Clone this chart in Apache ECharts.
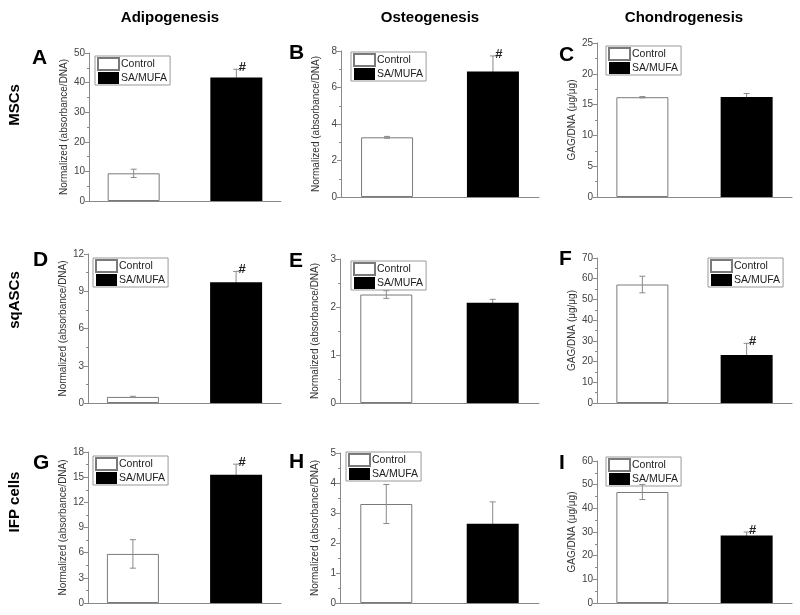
<!DOCTYPE html>
<html>
<head>
<meta charset="utf-8">
<script src="https://cdn.jsdelivr.net/npm/echarts@6/dist/echarts.min.js"></script>
<style>html,body{margin:0;padding:0;background:#fff;}#c{width:800px;height:615px;}</style>
</head>
<body>
<div id="c"></div>
<script>
// ---- data ----
const seriesNames = ['Control', 'SA/MUFA'];
const columnTitles = ['Adipogenesis', 'Osteogenesis', 'Chondrogenesis'];
const rowTitles = ['MSCs', 'sqASCs', 'IFP cells'];
const panelLetters = ['A', 'B', 'C', 'D', 'E', 'F', 'G', 'H', 'I'];
const yAxisNames = ['Normalized (absorbance/DNA)', 'Normalized (absorbance/DNA)', 'GAG/DNA (\u03bcg/\u03bcg)'];
const yMax = [50, 8, 25, 12, 3, 70, 18, 5, 60];
const yInterval = [10, 2, 5, 3, 1, 10, 3, 1, 10];
const controlMean = [9.35, 3.27, 16.2, 0.49, 2.26, 57.2, 5.85, 3.3, 46.9];
const controlErr = [1.4, 0.05, 0.1, 0.05, 0.08, 4.0, 1.7, 0.65, 3.2];
const treatMean = [41.7, 6.88, 16.25, 9.72, 2.09, 23.2, 15.3, 2.64, 28.5];
const treatErr = [2.8, 0.85, 0.55, 0.88, 0.07, 5.6, 1.25, 0.73, 1.5];
const significance = ['#', '#', '', '#', '', '#', '#', '', '#'];

// ---- layout ----
const gridBoxes = [
  {left: 89, top: 53, width: 192, height: 148},
  {left: 341, top: 51, width: 198, height: 146},
  {left: 597, top: 43, width: 195, height: 154},
  {left: 88, top: 254, width: 193, height: 149},
  {left: 340, top: 259, width: 199, height: 144},
  {left: 597, top: 258, width: 195, height: 145},
  {left: 88, top: 452, width: 193, height: 151},
  {left: 340, top: 453, width: 199, height: 150},
  {left: 597, top: 461, width: 195, height: 142}
];
const legendPos = [
  {left: 95, top: 56}, {left: 351, top: 52}, {left: 606, top: 46},
  {left: 93, top: 258}, {left: 351, top: 261}, {left: 708, top: 258},
  {left: 93, top: 456}, {left: 346, top: 452}, {left: 606, top: 457}
];
const letterPos = [[40, 59], [297, 54], [567, 56], [41, 261], [297, 262], [567, 260], [41, 464], [297, 463], [567, 464]];
const colTitleX = [170, 430, 684];
const rowTitleY = [105, 300, 502];

const FONT = '"Liberation Sans", Arial, sans-serif';
const AXIS = '#8a8a8a';

const grids = [], xAxes = [], yAxes = [], series = [], legends = [], graphics = [];

function errRender(params, api) {
  const x = api.value(0), lo = api.value(1), hi = api.value(2);
  const pHi = api.coord([x, hi]);
  const pLo = api.coord([x, lo]);
  const cw = 3;
  const style = {stroke: '#8a8a8a', lineWidth: 1};
  return {type: 'group', children: [
    {type: 'line', shape: {x1: pHi[0], y1: pHi[1], x2: pLo[0], y2: pLo[1]}, style: style},
    {type: 'line', shape: {x1: pHi[0] - cw, y1: pHi[1], x2: pHi[0] + cw, y2: pHi[1]}, style: style},
    {type: 'line', shape: {x1: pLo[0] - cw, y1: pLo[1], x2: pLo[0] + cw, y2: pLo[1]}, style: style}
  ]};
}

for (let i = 0; i < 9; i++) {
  const col = i % 3;
  grids.push(Object.assign({containLabel: false}, gridBoxes[i]));
  xAxes.push({
    gridIndex: i, type: 'value', min: 0.565, max: 2.435,
    axisLine: {show: true, onZero: false, lineStyle: {color: AXIS, width: 1}},
    axisTick: {show: false}, axisLabel: {show: false}, splitLine: {show: false}
  });
  yAxes.push({
    gridIndex: i, type: 'value', min: 0, max: yMax[i], interval: yInterval[i],
    name: yAxisNames[col], nameLocation: 'middle', nameGap: 20,
    nameTextStyle: {fontSize: 10, color: '#333', fontFamily: FONT},
    axisLine: {show: true, lineStyle: {color: AXIS, width: 1}},
    axisTick: {show: true, length: 4, lineStyle: {color: AXIS}},
    minorTick: {show: true, splitNumber: 2, length: 2, lineStyle: {color: AXIS}},
    axisLabel: {fontSize: 10, color: '#444', margin: 4, fontFamily: FONT},
    splitLine: {show: false}
  });
  legends.push({
    left: legendPos[i].left, top: legendPos[i].top, orient: 'vertical',
    data: seriesNames, icon: 'rect', itemWidth: 21, itemHeight: 12, itemGap: 1,
    padding: [1, 3, 1, 2], borderColor: '#999', borderWidth: 1,
    selectedMode: false,
    textStyle: {fontSize: 10.5, color: '#222', fontFamily: FONT, padding: [0, 0, 0, -3]}
  });
  series.push({
    type: 'bar', name: seriesNames[0], xAxisIndex: i, yAxisIndex: i,
    barWidth: 52, barGap: '-100%', z: 2,
    itemStyle: {color: '#ffffff', borderColor: '#7a7a7a', borderWidth: 1},
    data: [[1, controlMean[i]]]
  });
  series.push({
    type: 'bar', name: seriesNames[1], xAxisIndex: i, yAxisIndex: i,
    barWidth: 52, barGap: '-100%', z: 2,
    itemStyle: {color: '#000000', borderWidth: 0},
    data: [[2, treatMean[i]]]
  });
  series.push({
    type: 'custom', xAxisIndex: i, yAxisIndex: i, z: 3, silent: true,
    renderItem: errRender,
    data: [[1, controlMean[i] - controlErr[i], controlMean[i] + controlErr[i]]]
  });
  series.push({
    type: 'custom', xAxisIndex: i, yAxisIndex: i, z: 1, silent: true,
    renderItem: errRender,
    data: [[2, treatMean[i] - treatErr[i], treatMean[i] + treatErr[i]]]
  });
  if (significance[i]) {
    const mark = significance[i];
    series.push({
      type: 'custom', xAxisIndex: i, yAxisIndex: i, z: 4, silent: true,
      renderItem: function (params, api) {
        const p = api.coord([api.value(0), api.value(1)]);
        return {type: 'text', style: {text: mark, x: p[0] + 6, y: p[1] - 2, align: 'center', verticalAlign: 'middle', fontSize: 13, fontWeight: 'bold', fontFamily: FONT, fill: '#222'}};
      },
      data: [[2, treatMean[i] + treatErr[i]]]
    });
  }
  graphics.push({
    type: 'text', left: letterPos[i][0] - 8, top: letterPos[i][1] - 11,
    style: {text: panelLetters[i], fontSize: 21, fontWeight: 'bold', fontFamily: FONT, fill: '#000'}
  });
}
for (let c = 0; c < 3; c++) {
  graphics.push({
    type: 'text', x: colTitleX[c], y: 18,
    style: {text: columnTitles[c], fontSize: 15, fontWeight: 'bold', fontFamily: FONT, fill: '#000', align: 'center', verticalAlign: 'middle'}
  });
}
for (let r = 0; r < 3; r++) {
  graphics.push({
    type: 'text', x: 15, y: rowTitleY[r], rotation: Math.PI / 2,
    style: {text: rowTitles[r], fontSize: 15, fontWeight: 'bold', fontFamily: FONT, fill: '#000', align: 'center', verticalAlign: 'middle'}
  });
}

const chart = echarts.init(document.getElementById('c'), null, {renderer: 'canvas'});
chart.setOption({
  animation: false,
  backgroundColor: '#ffffff',
  grid: grids, xAxis: xAxes, yAxis: yAxes, legend: legends, series: series, graphic: graphics
});
</script>
</body>
</html>
